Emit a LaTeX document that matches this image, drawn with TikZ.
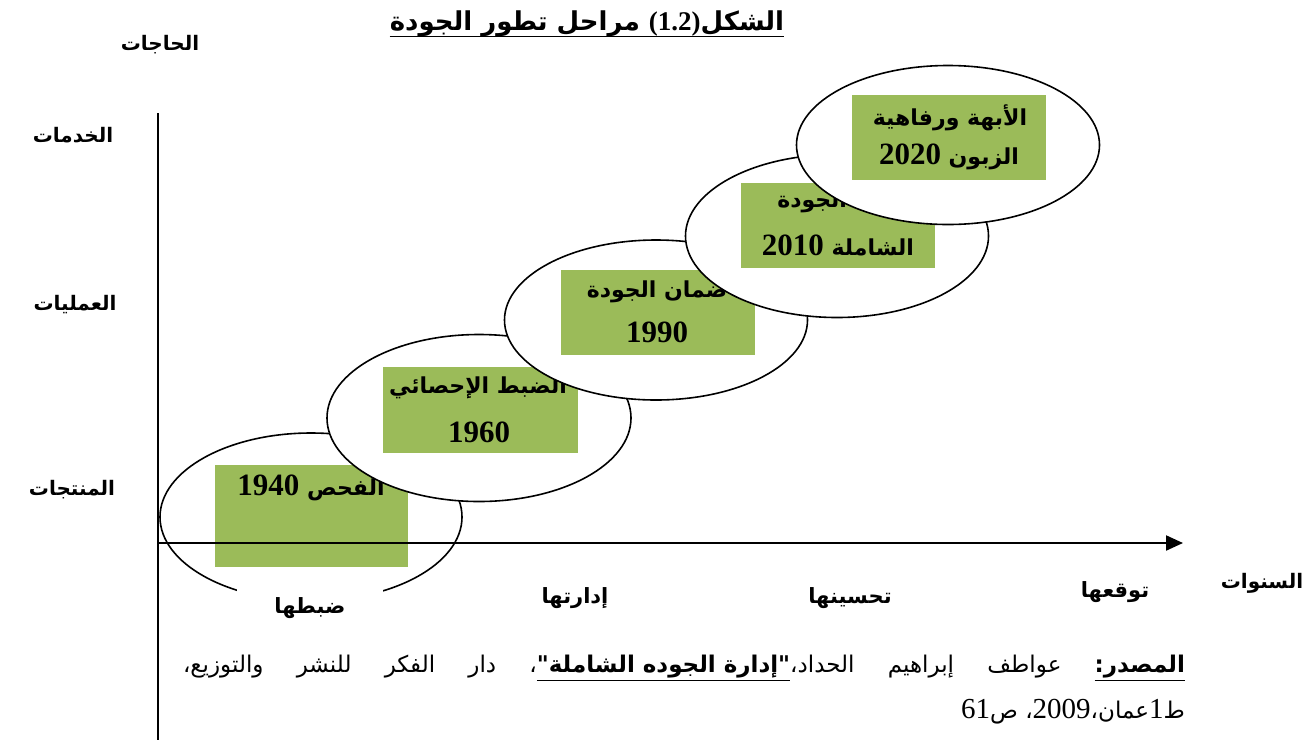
\documentclass[tikz,border=0pt]{standalone}
\usepackage{fontspec}
\usetikzlibrary{arrows.meta,shapes.geometric}
\TeXXeTstate=1
\newfontfamily\arfont[Script=Arabic]{DejaVu Sans}
\newfontfamily\tnr{Liberation Serif}
\definecolor{boxgreen}{HTML}{9BBB59}
\newcommand{\AR}[1]{{\arfont\bfseries\beginR #1\endR}}
\newcommand{\NUM}[1]{{\tnr\bfseries\fontsize{31}{34}\selectfont\beginL #1\endL}}
\newcommand{\ULN}[1]{$\underline{\hbox{#1}}$}
\tikzset{
  ell/.style={ellipse, draw=black, line width=1.6pt, fill=white, inner sep=0pt},
  gbox/.style={rectangle, fill=boxgreen, draw=none, inner sep=0pt},
  btxt/.style={inner sep=0pt, font=\fontsize{22}{26}\selectfont},
  lbl/.style={inner sep=0pt, font=\fontsize{20}{24}\selectfont},
  blbl/.style={inner sep=0pt, font=\fontsize{21}{25}\selectfont},
  srct/.style={inner sep=0pt, font=\fontsize{23}{27}\selectfont},
  axis/.style={draw=black, line width=2.2pt},
}
\begin{document}
\begin{tikzpicture}[x=1pt,y=-1pt]
\useasboundingbox[fill=white] (0,0) rectangle (1306,740);
% title
\node[inner sep=0pt, font=\fontsize{26}{30}\selectfont] (title) at (587,24) {\AR{الشكل{\tnr\bfseries\fontsize{27}{30}\selectfont\beginL(1.2)\endL} مراحل تطور الجودة}};
\draw[line width=1.4pt] ([yshift=1pt]title.south west) -- ([yshift=1pt]title.south east);
% axis labels
\node[lbl] (needs) at (160,45) {\AR{الحاجات}};
\node[lbl] (serv) at (73,135) {\AR{الخدمات}};
\node[lbl] (proc) at (75,305) {\AR{العمليات}};
\node[lbl] (prod) at (72,490) {\AR{المنتجات}};
% stage 1
\node[ell, minimum width=302pt, minimum height=168pt] (e1) at (311,517) {};
\node[gbox, minimum width=193pt, minimum height=102pt] (b1) at (311.5,516) {};
\node[btxt] (t1) at (311,488) {\AR{الفحص \NUM{1940}}};
% stage 2
\node[ell, minimum width=304pt, minimum height=167pt] (e2) at (479,418) {};
\node[gbox, minimum width=195pt, minimum height=86pt] (b2) at (480.5,410) {};
\node[btxt] (t2a) at (478,388) {\AR{الضبط الإحصائي}};
\node[btxt] (t2b) at (479,432) {\NUM{1960}};
% stage 3
\node[ell, minimum width=303pt, minimum height=160pt] (e3) at (656,320) {};
\node[gbox, minimum width=194pt, minimum height=85pt] (b3) at (658,312.5) {};
\node[btxt] (t3a) at (657,292) {\AR{ضمان الجودة}};
\node[btxt] (t3b) at (657,332) {\NUM{1990}};
% stage 4
\node[ell, minimum width=303pt, minimum height=163pt] (e4) at (837,236) {};
\node[gbox, minimum width=194pt, minimum height=85pt] (b4) at (838,225.5) {};
\node[btxt] (t4a) at (842,202) {\AR{إدارة الجودة}};
\node[btxt] (t4b) at (838,245) {\AR{الشاملة \NUM{2010}}};
% stage 5
\node[ell, minimum width=303pt, minimum height=159pt] (e5) at (948,145) {};
\node[gbox, minimum width=194pt, minimum height=85pt] (b5) at (949,137.5) {};
\node[btxt] (t5a) at (950,118) {\AR{الأبهة ورفاهية}};
\node[btxt] (t5b) at (949,157) {\AR{الزبون \NUM{2020}}};
% bottom labels
\node[blbl, fill=white, minimum width=146pt, minimum height=44pt] (x1) at (310,608) {\AR{ضبطها}};
\node[blbl] (x2) at (575,598) {\AR{إدارتها}};
\node[blbl] (x3) at (850,598) {\AR{تحسينها}};
\node[blbl] (x4) at (1115,592) {\AR{توقعها}};
\node[lbl] (years) at (1262,583) {\AR{السنوات}};
% axes
\coordinate (vtop) at (158,113);
\coordinate (vbot) at (158,740);
\coordinate (org) at (158,543);
\coordinate (hend) at (1183,543);
\draw[axis, line width=1.8pt] (vtop) -- (vbot);
\draw[axis, -{Triangle[length=17pt,width=15pt]}] (org) -- (hend);
% source
\node[srct] (src1) at (684,668) {\hbox to 1002pt{\arfont\beginR\ULN{\bfseries المصدر:}\hfill عواطف\hfill إبراهيم\hfill الحداد،\ULN{\bfseries\beginR"إدارة الجوده الشاملة"\endR}،\hfill دار\hfill الفكر\hfill للنشر\hfill والتوزيع،\endR}};
\node[srct, anchor=east] (src2) at (1185,712) {\arfont\beginR ط{\tnr\fontsize{29}{32}\selectfont 1}عمان،{\tnr\fontsize{29}{32}\selectfont 2009}، ص{\tnr\fontsize{29}{32}\selectfont 61}\endR};
\end{tikzpicture}
\end{document}
